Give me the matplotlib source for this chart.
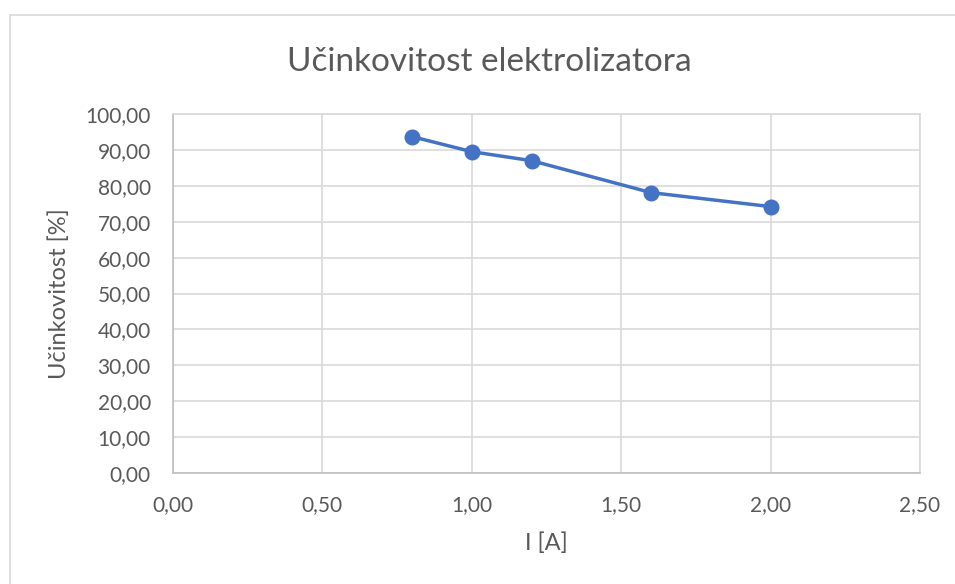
import matplotlib.pyplot as plt
from matplotlib.patches import Rectangle
from matplotlib.ticker import FuncFormatter, MultipleLocator

struja = [0.8, 1.0, 1.2, 1.6, 2.0]
ucinkovitost = [93.7, 89.5, 87.0, 78.1, 74.2]

plt.rcParams['font.family'] = ['Lato', 'DejaVu Sans']
siva = '#595959'
mreza = '#D9D9D9'

fig = plt.figure(figsize=(9.55, 5.84), dpi=100)
fig.patches.append(Rectangle((10 / 955, -0.1), 1.2, 1.1 - 15 / 584, transform=fig.transFigure,
                             fill=False, edgecolor=mreza, linewidth=1.2))
ax = fig.add_axes([173 / 955, 1 - 473 / 584, (920 - 173) / 955, (473 - 114) / 584])

ax.plot(struja, ucinkovitost, color='#4472C4', linewidth=2.5, marker='o', markersize=10.5, zorder=3)

ax.set_xlim(0, 2.5)
ax.set_ylim(0, 100)
ax.xaxis.set_major_locator(MultipleLocator(0.5))
ax.yaxis.set_major_locator(MultipleLocator(10))
fmt = FuncFormatter(lambda v, p: f'{v:.2f}'.replace('.', ','))
ax.xaxis.set_major_formatter(fmt)
ax.yaxis.set_major_formatter(fmt)

ax.grid(True, color=mreza, linewidth=1.2)
ax.set_axisbelow(True)
for s in ax.spines.values():
    s.set_color(mreza)
    s.set_linewidth(1.2)
ax.spines['left'].set_color('#BFBFBF')
ax.spines['bottom'].set_color('#BFBFBF')
ax.tick_params(length=0, labelsize=15, colors=siva)
ax.tick_params(axis='y', pad=16)
ax.tick_params(axis='x', pad=16)

# naslov centriran na cijeloj slici, ne na osima
fig.text(489 / 955, 1 - 62 / 584, 'Učinkovitost elektrolizatora', fontsize=24, color=siva,
         ha='center', va='center')
ax.set_xlabel('I [A]', fontsize=17, color=siva, labelpad=12)
ax.set_ylabel('Učinkovitost [%]', fontsize=17, color=siva, labelpad=11)

fig.savefig('out.png', dpi=100)
